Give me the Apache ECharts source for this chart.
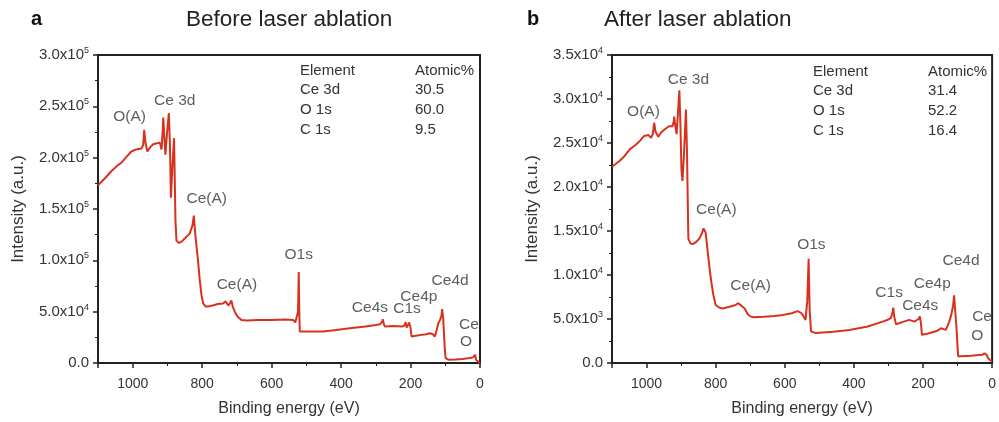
<!DOCTYPE html>
<html><head><meta charset="utf-8">
<script src="https://cdn.jsdelivr.net/npm/echarts@6/dist/echarts.min.js"></script>
<style>html,body{margin:0;padding:0;background:#fff}#c{width:999px;height:422px}</style>
</head><body><div id="c"></div>
<script>
// ---- Data ----
const energyA = [1100,1080,1061,1045,1033,1020,1004,990,975,970,967,963,958,950,941,930,922,917,914,912,909,906,901,896,893,890,886,881,879,877,874,867,860,848,836,828,824,821,818,812,807,802,797,790,783,770,755,740,733,730,725,720,716,712,706,698,687,670,640,600,560,538,532,528,524,522,520,519,500,452,420,375,330,300,288,282,280,277,274,250,225,218,214,211,207,204,200,197,185,168,155,144,136,130,124,120,115,111,109,106,104,101,99,95,91,70,50,29,20,14,11,8,3,0];
const intensityA = [173000,180000,187000,192000,195000,200000,206000,208000,209000,212000,227000,214000,206000,210000,213000,214000,214500,208000,225000,239000,220000,203000,225000,243500,215000,161000,190000,219000,180000,139000,119000,117000,118000,122000,126000,134000,143500,130000,119000,100000,80600,66000,58000,55000,55000,56000,57500,58000,60000,59700,56000,58000,61000,55000,50000,45000,42000,41500,41800,42000,42300,42000,39500,38700,50000,88700,45000,30600,30800,30600,32000,33900,35500,37000,37700,40000,42600,38000,35500,36000,35500,36500,39700,34500,36000,39400,34000,25800,26500,27400,28000,29000,28000,25800,33000,38700,42000,46000,52500,44000,30600,12000,4800,3500,3200,3400,4000,4800,5500,8000,3000,1600,800,0];

const energyB = [1100,1080,1064,1048,1031,1018,1007,995,987,982,978,974,966,958,949,935,925,921,920,917,913,909,905,902,899,896,892,886,883,879,873,867,858,848,840,835,832,829,826,820,814,807,800,790,780,760,742,736,732,728,723,716,708,700,690,660,630,606,580,563,553,548,540,535,531,528,524,510,460,413,360,317,300,293,288,286,283,278,260,240,225,220,213,209,206,203,185,163,155,148,140,134,128,124,118,113,110,107,103,100,98,90,60,40,28,22,18,15,12,5,0];
const intensityB = [22300,22900,23500,24300,24800,25300,25800,25900,25600,26000,27300,26300,25700,26200,26500,26900,26900,27500,28000,27000,26000,28500,31000,27000,22000,20700,23500,28800,24000,14100,13600,13500,13700,14100,14700,15300,15500,14800,13700,11600,9600,7800,6600,6300,6200,6400,6600,6800,6900,6600,6800,6200,5600,5300,5200,5250,5350,5450,5650,5900,5700,5450,4900,7000,11850,6000,3600,3400,3550,3760,4150,4700,4950,5100,5800,6300,5200,4400,4650,4900,4700,4700,5000,5300,4500,3200,3350,3600,3750,3950,3850,3760,4300,4700,5500,6500,7700,6000,3950,1800,760,760,820,900,940,1100,1300,900,560,300,200];

const peakLabelsA = ['O(A)','Ce 3d','Ce(A)','Ce(A)','O1s','Ce4s','C1s','Ce4p','Ce4d','Ce','O'];
const peakEnergyA = [1009,879,787,700,522,317,210,176,86,32,40];
const peakLevelA  = [240000,255500,159700,76400,105500,54200,53200,64800,80300,37700,20300];

const peakLabelsB = ['O(A)','Ce 3d','Ce(A)','Ce(A)','O1s','C1s','Ce4s','Ce4p','Ce4d','Ce','O'];
const peakEnergyB = [1009,879,798,699,523,298,208,173,90,29,43];
const peakLevelB  = [28560,32200,17400,8800,13400,8000,6550,9000,11600,5300,3050];

const tableHeader = ['Element','Atomic%'];
const tableElements = ['Ce 3d','O 1s','C 1s'];
const atomicA = ['30.5','60.0','9.5'];
const atomicB = ['31.4','52.2','16.4'];

const yTicksA = ['0.0','5.0x10^4','1.0x10^5','1.5x10^5','2.0x10^5','2.5x10^5','3.0x10^5'];
const yTicksB = ['0.0','5.0x10^3','1.0x10^4','1.5x10^4','2.0x10^4','2.5x10^4','3.0x10^4','3.5x10^4'];
const xTicks = ['0','200','400','600','800','1000'];

const titlesLetter = ['a','b'];
const titles = ['Before laser ablation','After laser ablation'];

// ---- Chart ----
const FONT = '"Liberation Sans", Arial, sans-serif';
const TXT = '#333';
const RED = '#d8321e';
const zip = (a,b) => a.map((v,i)=>[v,b[i]]);
const peaks = (e,l,t) => e.map((v,i)=>[v,l[i],t[i]]);
const rich = {b:{fontSize:15,lineHeight:18,color:TXT,fontFamily:FONT},sup:{fontSize:9,lineHeight:9,verticalAlign:'top',color:TXT,fontFamily:FONT}};
const fmtY = (labels, step) => (v) => {
  const s = labels[Math.round(v/step)] || '';
  const m = s.split('^');
  return m.length>1 ? '{b|'+m[0]+'}{sup|'+m[1]+'}' : '{b|'+s+'}';
};
const gridCommon = {top:55,height:310,show:true,borderColor:'#222',borderWidth:2,backgroundColor:'transparent'};
function xAxis(gi){
  return {gridIndex:gi,type:'value',min:0,max:1100,interval:200,inverse:true,
    name:'Binding energy (eV)',nameLocation:'middle',nameGap:38,
    nameTextStyle:{fontSize:16,color:TXT,fontFamily:FONT},
    axisLine:{onZero:false,lineStyle:{color:'#222',width:2}},
    axisTick:{inside:false,length:5,lineStyle:{color:'#222',width:1.5}},
    minorTick:{show:true,splitNumber:2,length:3,lineStyle:{color:'#222',width:1}},
    splitLine:{show:false},
    axisLabel:{fontSize:14,color:TXT,fontFamily:FONT,margin:14,
      formatter:(v)=>xTicks[Math.round(v/200)] ?? ''}};
}
function yAxis(gi,max,step,labels){
  return {gridIndex:gi,type:'value',min:0,max:max,interval:step,
    name:'Intensity (a.u.)',nameLocation:'middle',nameGap:71,
    nameTextStyle:{fontSize:17,color:TXT,fontFamily:FONT},
    axisLine:{show:true,onZero:false,lineStyle:{color:'#222',width:2}},
    axisTick:{show:true,length:5,lineStyle:{color:'#222',width:1.5}},
    minorTick:{show:true,splitNumber:2,length:3,lineStyle:{color:'#222',width:1}},
    splitLine:{show:false},
    axisLabel:{margin:9,formatter:fmtY(labels,step),rich:rich}};
}
function lineSeries(i,e,v){
  return {type:'line',xAxisIndex:i,yAxisIndex:i,data:zip(e,v),showSymbol:false,symbol:'none',
    lineStyle:{color:RED,width:2},silent:true,animation:false};
}
function labelSeries(i,data){
  return {type:'scatter',xAxisIndex:i,yAxisIndex:i,data:data,symbolSize:0,silent:true,animation:false,
    label:{show:true,position:'inside',formatter:(p)=>p.data[2],fontSize:15.5,color:TXT,fontFamily:FONT}};
}
const chart = echarts.init(document.getElementById('c'));
function tableGraphics(x0,x1,y0,vals){
  const g=[];
  const rows=[[tableHeader[0],tableHeader[1]]].concat(tableElements.map((e,i)=>[e,vals[i]]));
  rows.forEach((r,i)=>{
    g.push({type:'text',left:x0,top:y0+i*19.7,style:{text:r[0],fontSize:15,fill:TXT,fontFamily:FONT}});
    g.push({type:'text',left:x1,top:y0+i*19.7,style:{text:r[1],fontSize:15,fill:TXT,fontFamily:FONT}});
  });
  return g;
}
const graphics = [
  {type:'text',left:31,top:9,style:{text:titlesLetter[0],fontSize:20,fontWeight:'bold',fill:'#111',fontFamily:FONT}},
  {type:'text',left:186,top:8,style:{text:titles[0],fontSize:22.5,fill:'#222',fontFamily:FONT}},
  {type:'text',left:527,top:9,style:{text:titlesLetter[1],fontSize:20,fontWeight:'bold',fill:'#111',fontFamily:FONT}},
  {type:'text',left:604,top:8,style:{text:titles[1],fontSize:22.5,fill:'#222',fontFamily:FONT}}
].concat(tableGraphics(300,415,63,atomicA)).concat(tableGraphics(813,928,64,atomicB));

chart.setOption({
  animation:false,
  textStyle:{fontFamily:FONT},
  grid:[Object.assign({left:98,width:382},gridCommon),Object.assign({left:612,width:381},gridCommon)],
  xAxis:[xAxis(0),xAxis(1)],
  yAxis:[yAxis(0,300000,50000,yTicksA),yAxis(1,35000,5000,yTicksB)],
  series:[lineSeries(0,energyA,intensityA),lineSeries(1,energyB,intensityB),
    labelSeries(0,peaks(peakEnergyA,peakLevelA,peakLabelsA)),labelSeries(1,peaks(peakEnergyB,peakLevelB,peakLabelsB))],
  graphic:graphics
});
</script></body></html>
